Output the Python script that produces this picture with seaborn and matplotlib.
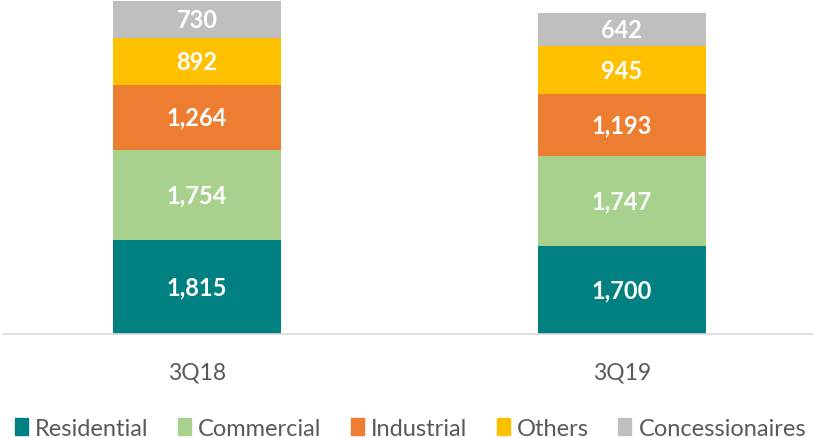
import numpy as np
import pandas as pd
import seaborn as sns
import matplotlib.pyplot as plt
from matplotlib.patches import Patch

quarters = ['3Q18', '3Q19']
segments = ['Residential', 'Commercial', 'Industrial', 'Others', 'Concessionaires']
residential = [1815, 1700]
commercial = [1754, 1747]
industrial = [1264, 1193]
others = [892, 945]
concessionaires = [730, 642]
colors = ['#008080', '#a9d18e', '#ed7d31', '#ffc000', '#bfbfbf']

sns.set_theme(style='white')
plt.rcParams['font.family'] = ['Lato', 'DejaVu Sans']

df = pd.DataFrame({'quarter': quarters, 'Residential': residential, 'Commercial': commercial,
                   'Industrial': industrial, 'Others': others, 'Concessionaires': concessionaires})
cum = df[segments].cumsum(axis=1)

fig = plt.figure(figsize=(8.13, 4.39), dpi=100)
ax = fig.add_axes([0.004, 0.237, 0.996, 0.763])

# draw cumulative totals from the top segment down so each layer overlays the next
for seg, col in reversed(list(zip(segments, colors))):
    sns.barplot(x=df['quarter'], y=cum[seg], color=col, width=0.395, ax=ax,
                saturation=1, linewidth=0)

for i in range(len(df)):
    for seg in segments:
        top = cum.loc[i, seg]
        mid = top - df.loc[i, seg] / 2
        ax.text(i, mid, f'{df.loc[i, seg]:,}', ha='center', va='center',
                color='white', fontsize=17, fontweight='bold')

ax.set_xlim(-0.456, 1.45)
ax.set_ylim(0, 6490)
ax.set_xlabel('')
ax.set_ylabel('')
ax.set_yticks([])
for s in ['top', 'left', 'right']:
    ax.spines[s].set_visible(False)
ax.spines['bottom'].set_color('#d9d9d9')
ax.spines['bottom'].set_linewidth(1.2)
ax.tick_params(axis='x', length=0, pad=20, labelsize=16.5, labelcolor='#595959')

handles = [Patch(color=c, label=s) for s, c in zip(segments, colors)]
fig.legend(handles=handles, loc='lower center', bbox_to_anchor=(0.505, -0.05), ncol=5,
           frameon=False, prop={'size': 17}, labelcolor='#595959',
           handlelength=0.55, handleheight=0.75, handletextpad=0.3, columnspacing=1.25)

fig.savefig('out.png', dpi=100)
